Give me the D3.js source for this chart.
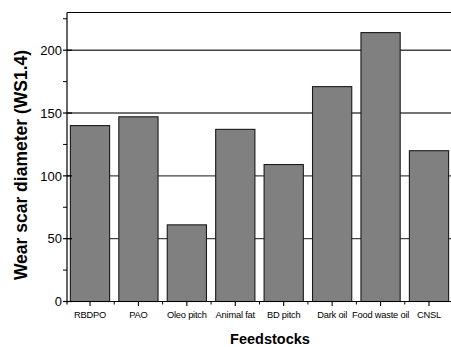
<!DOCTYPE html>
<html><head><meta charset="utf-8">
<script src="https://cdn.jsdelivr.net/npm/d3@7"></script>
<style>body{margin:0;background:#fff}svg{display:block}text{font-family:"Liberation Sans",Arial,sans-serif}</style>
</head><body><svg id="c" width="451" height="347"></svg>
<script>
const categories = ["RBDPO","PAO","Oleo pitch","Animal fat","BD pitch","Dark oil","Food waste oil","CNSL"];
const values = [140,147,61,137,109,171,214,120];
const yMajor = [0,50,100,150,200];
const yMinor = [25,75,125,175,225];
const gridVals = [50,100,150,200];

const svg = d3.select("#c");
const L = 67, R = 452, T = 12.5, B = 301.5;
const x = d3.scaleBand().domain(categories).range([L,R]).paddingInner(0.19).paddingOuter(0.07);
const y = d3.scaleLinear().domain([0,230]).range([B,T]);

// gridlines
svg.append("g").selectAll("line").data(gridVals).join("line")
  .attr("x1",L).attr("x2",451).attr("y1",d=>y(d)).attr("y2",d=>y(d))
  .attr("stroke","#444").attr("stroke-width",1.4);

// bars
svg.append("g").selectAll("rect").data(values).join("rect")
  .attr("x",(d,i)=>x(categories[i])).attr("width",x.bandwidth())
  .attr("y",d=>y(d)).attr("height",d=>B-y(d))
  .attr("fill","#808080").attr("stroke","#1a1a1a").attr("stroke-width",1.1);

// frame
svg.append("line").attr("x1",L).attr("x2",451).attr("y1",T).attr("y2",T).attr("stroke","#000").attr("stroke-width",1.2);
svg.append("line").attr("x1",L).attr("x2",L).attr("y1",T).attr("y2",B+3).attr("stroke","#000").attr("stroke-width",1.2);
svg.append("line").attr("x1",L).attr("x2",451).attr("y1",B).attr("y2",B).attr("stroke","#000").attr("stroke-width",1.2);

// y ticks
const gy = svg.append("g");
gy.selectAll("line.maj").data(yMajor).join("line").attr("class","maj")
  .attr("x1",L-4).attr("x2",L+5).attr("y1",d=>y(d)).attr("y2",d=>y(d)).attr("stroke","#000").attr("stroke-width",1.2);
gy.selectAll("line.min").data(yMinor).join("line").attr("class","min")
  .attr("x1",L-4).attr("x2",L).attr("y1",d=>y(d)).attr("y2",d=>y(d)).attr("stroke","#000").attr("stroke-width",1);
gy.selectAll("text").data(yMajor).join("text")
  .attr("x",L-5).attr("y",d=>y(d)).attr("dy","0.36em").attr("text-anchor","end")
  .attr("font-size",13).attr("fill","#000").text(d=>d);

// x ticks
const gx = svg.append("g");
gx.selectAll("line.maj").data(categories).join("line").attr("class","maj")
  .attr("x1",d=>x(d)+x.bandwidth()/2).attr("x2",d=>x(d)+x.bandwidth()/2)
  .attr("y1",B).attr("y2",B+4.5).attr("stroke","#000").attr("stroke-width",1.1);
gx.selectAll("line.min").data(categories.slice(1)).join("line").attr("class","min")
  .attr("x1",d=>x(d)-x.step()*x.paddingInner()/2).attr("x2",d=>x(d)-x.step()*x.paddingInner()/2)
  .attr("y1",B).attr("y2",B+3).attr("stroke","#000").attr("stroke-width",1);
gx.selectAll("text").data(categories).join("text")
  .attr("x",d=>x(d)+x.bandwidth()/2).attr("y",B+16).attr("text-anchor","middle")
  .attr("font-size",9.3).attr("fill","#000").attr("letter-spacing","-0.2").text(d=>d);

// axis titles
svg.append("text").attr("x",270).attr("y",344).attr("text-anchor","middle")
  .attr("font-size",14.5).attr("font-weight","bold").text("Feedstocks");
svg.append("text").attr("transform","translate(27,165) rotate(-90)").attr("text-anchor","middle")
  .attr("font-size",17.5).attr("font-weight","bold").text("Wear scar diameter (WS1.4)");
</script></body></html>
